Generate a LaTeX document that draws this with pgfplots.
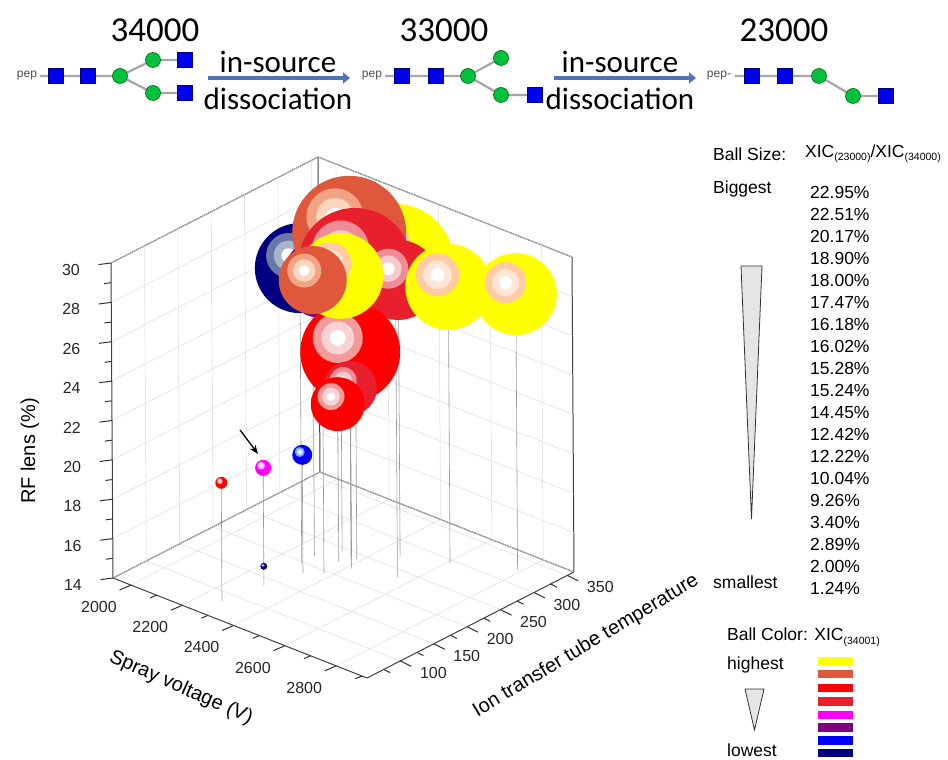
\documentclass[border=0pt]{standalone}
\usepackage{pgfplots}
\pgfplotsset{compat=1.18}
\usepackage{fontspec}
\setmainfont{Liberation Sans}
\newfontfamily\calibri{Carlito}
\usetikzlibrary{calc,arrows.meta}

\definecolor{cY}{HTML}{FFFF00}\definecolor{cYa}{HTML}{FFCBA4}\definecolor{cYb}{HTML}{FFE6D6}
\definecolor{cO}{HTML}{E0583C}\definecolor{cOa}{HTML}{F2A384}\definecolor{cOb}{HTML}{FDD5BF}
\definecolor{cR}{HTML}{FF0000}\definecolor{cRa}{HTML}{F39A9A}\definecolor{cRb}{HTML}{F9D3D3}
\definecolor{cC}{HTML}{E81F2D}\definecolor{cCa}{HTML}{F08C95}\definecolor{cCb}{HTML}{F8C9CD}
\definecolor{cM}{HTML}{FF00FF}\definecolor{cMa}{HTML}{FF90FF}\definecolor{cMb}{HTML}{FFD0FF}
\definecolor{cP}{HTML}{800080}\definecolor{cPa}{HTML}{A870A8}\definecolor{cPb}{HTML}{D4B8D4}
\definecolor{cB}{HTML}{0000FF}\definecolor{cBa}{HTML}{6FA0FF}\definecolor{cBb}{HTML}{C0D8FF}
\definecolor{cN}{HTML}{000080}\definecolor{cNa}{HTML}{6878A8}\definecolor{cNb}{HTML}{A8B4CC}
\definecolor{arrowblue}{HTML}{4F72B8}
\definecolor{gblue}{HTML}{0000F0}
\definecolor{ggreen}{HTML}{00C040}
\definecolor{txt}{HTML}{262626}

\newcommand\defball[4]{%
  \pgfdeclareplotmark{#1}{%
    \pgfpathcircle{\pgfpointorigin}{\pgfplotmarksize}%
    \pgfsetfillcolor{#2}\pgfusepath{fill}%
    \pgfpathcircle{\pgfpoint{-0.25\pgfplotmarksize}{0.28\pgfplotmarksize}}{0.5\pgfplotmarksize}%
    \pgfsetfillcolor{#3}\pgfusepath{fill}%
    \pgfpathcircle{\pgfpoint{-0.25\pgfplotmarksize}{0.28\pgfplotmarksize}}{0.33\pgfplotmarksize}%
    \pgfsetfillcolor{#4}\pgfusepath{fill}%
    \pgfpathcircle{\pgfpoint{-0.25\pgfplotmarksize}{0.28\pgfplotmarksize}}{0.16\pgfplotmarksize}%
    \pgfsetfillcolor{white}\pgfusepath{fill}%
  }}
\defball{bY}{cY}{cYa}{cYb}
\defball{bO}{cO}{cOa}{cOb}
\defball{bR}{cR}{cRa}{cRb}
\defball{bC}{cC}{cCa}{cCb}
\defball{bM}{cM}{cMa}{cMb}
\defball{bP}{cP}{cPa}{cPb}
\defball{bB}{cB}{cBa}{cBb}
\defball{bN}{cN}{cNa}{cNb}

\newcommand\sub[1]{\raisebox{-3.5pt}{\fontsize{10.5}{10.5}\selectfont(#1)}}
\tikzset{tk/.style={black!80, line width=1pt},
  tl/.style={font=\fontsize{16}{16}\selectfont, text=txt, inner sep=0pt}}

\begin{document}
\begin{tikzpicture}[font=\color{txt}]
\begin{axis}[
  x={(0.256566pt,-0.10101pt)}, y={(0.667742pt,0.341935pt)}, z={(-0.125pt,19.6875pt)},
  xmin=1930, xmax=2920, ymin=50, ymax=360, zmin=14, zmax=30,
  clip=false,
  grid=major, major grid style={black!14, line width=0.5pt},
  xtick={2000,2200,...,2800},
  ytick={100,150,...,350},
  ztick={14,16,...,30},
  xticklabels={}, yticklabels={}, zticklabels={},
  every tick/.style={draw=none},
  axis line style={black!75, line width=1pt},
  dropline/.style={black!40, line width=0.6pt, forget plot},
]
% tick marks and tick labels on the three front axes
\pgfplotsinvokeforeach{2000,2200,2400,2600,2800}{\draw[tk] (#1,50,14) -- ++(-11.5pt,-5pt);
  \node[tl, xshift=-32pt, yshift=-22pt] at (#1,50,14) {#1};}
\pgfplotsinvokeforeach{2100,2300,2500,2700,2900}{\draw[tk] (#1,50,14) -- ++(-6.5pt,-2.8pt);}
\pgfplotsinvokeforeach{100,150,200,250,300,350}{\draw[tk] (2920,#1,14) -- ++(11pt,-5.5pt);
  \node[tl, xshift=33pt, yshift=-12pt] at (2920,#1,14) {#1};}
\pgfplotsinvokeforeach{75,125,175,225,275,325}{\draw[tk] (2920,#1,14) -- ++(6.3pt,-3.2pt);}
\pgfplotsinvokeforeach{14,16,18,20,22,24,26,28,30}{\draw[tk] (1930,50,#1) -- ++(-12.5pt,-1.6pt);
  \node[tl, xshift=-40pt, yshift=-7pt] at (1930,50,#1) {#1};}
\pgfplotsinvokeforeach{15,17,19,21,23,25,27,29}{\draw[tk] (1930,50,#1) -- ++(-7pt,-0.9pt);}
% drop lines to the floor
\addplot3[dropline] coordinates {(2552,237,30) (2552,237,14)};
\addplot3[dropline] coordinates {(2283,197,29) (2283,197,14)};
\addplot3[dropline] coordinates {(2375,195,29) (2375,195,14)};
\addplot3[dropline] coordinates {(2325,255,30) (2325,255,14)};
\addplot3[dropline] coordinates {(2391,238,29) (2391,238,14)};
\addplot3[dropline] coordinates {(2466,274,28) (2466,274,14)};
\addplot3[dropline] coordinates {(2415,221,25) (2415,221,14)};
\addplot3[dropline] coordinates {(2321,243,28) (2321,243,14)};
\addplot3[dropline] coordinates {(2278,218,28) (2278,218,14)};
\addplot3[dropline] coordinates {(2606,295,28) (2606,295,14)};
\addplot3[dropline] coordinates {(2786,327,28) (2786,327,14)};
\addplot3[dropline] coordinates {(2400,226,23) (2400,226,14)};
\addplot3[dropline] coordinates {(2357,224,22) (2357,224,14)};
\addplot3[dropline] coordinates {(2269,83,20) (2269,83,14)};
\addplot3[dropline] coordinates {(2297,135,20) (2297,135,14)};
\addplot3[dropline] coordinates {(2327,182,20) (2327,182,14)};
% balls (back to front)
\addplot3[only marks, mark=bY, mark size=58] coordinates {(2552,237,30)};
\addplot3[only marks, mark=bN, mark size=45] coordinates {(2283,197,29)};
\addplot3[only marks, mark=bP, mark size=40] coordinates {(2375,195,29)};
\addplot3[only marks, mark=bO, mark size=57] coordinates {(2325,255,30)};
\addplot3[only marks, mark=bC, mark size=57] coordinates {(2391,238,29)};
\addplot3[only marks, mark=bC, mark size=40] coordinates {(2466,274,28)};
\addplot3[only marks, mark=bR, mark size=50] coordinates {(2415,221,25)};
\addplot3[only marks, mark=bY, mark size=43] coordinates {(2321,243,28)};
\addplot3[only marks, mark=bO, mark size=34] coordinates {(2278,218,28)};
\addplot3[only marks, mark=bY, mark size=43] coordinates {(2606,295,28)};
\addplot3[only marks, mark=bY, mark size=41] coordinates {(2786,327,28)};
\addplot3[only marks, mark=bC, mark size=27] coordinates {(2400,226,23)};
\addplot3[only marks, mark=bR, mark size=27] coordinates {(2357,224,22)};
\addplot3[only marks, mark=bR, mark size=6] coordinates {(2269,83,20)};
\addplot3[only marks, mark=bM, mark size=8] coordinates {(2297,135,20)};
\addplot3[only marks, mark=bB, mark size=10] coordinates {(2327,182,20)};
\addplot3[only marks, mark=bN, mark size=3.5] coordinates {(2297,135,15)};
\coordinate (L) at (1930,50,14);
\end{axis}

\begin{scope}[shift={($(L)+(-113pt,578pt)$)}, x=1pt, y=-1pt]
% axis titles
\node[rotate=-24, font=\fontsize{20}{20}\selectfont] at (181,688) {Spray voltage (V)};
\node[rotate=31, font=\fontsize{20}{20}\selectfont] at (586,646) {Ion transfer tube temperature};
\node[rotate=90, font=\fontsize{20}{20}\selectfont] at (30,451) {RF lens (\%)};
% arrow to magenta point
\draw[black, line width=1.3pt, -{Stealth[length=9pt,width=7pt]}] (240,430) -- (258,454);

% top scheme
\node[font=\calibri\fontsize{35}{35}\selectfont] at (155,30) {34000};
\node[font=\calibri\fontsize{35}{35}\selectfont] at (444,30) {33000};
\node[font=\calibri\fontsize{35}{35}\selectfont] at (784,30) {23000};
\foreach \xa in {208,554}{
  \draw[arrowblue, line width=4.5pt, -{Triangle[length=7pt,width=11pt]}] (\xa,78) -- ++(142,0);
}
\node[font=\calibri\fontsize{31}{31}\selectfont] at (278,62) {in-source};
\node[font=\calibri\fontsize{31}{31}\selectfont] at (278,99) {dissociation};
\node[font=\calibri\fontsize{31}{31}\selectfont] at (620,62) {in-source};
\node[font=\calibri\fontsize{31}{31}\selectfont] at (620,99) {dissociation};
\tikzset{gl/.style={black!35, line width=2.2pt},
  sq/.style={fill=gblue, draw=blue!50!black, line width=0.6pt},
  ci/.style={fill=ggreen, draw=green!40!black, line width=0.6pt}}
\def\sq(#1,#2){\filldraw[sq] (#1-7.5,#2-7.5) rectangle (#1+7.5,#2+7.5);}
\def\ci(#1,#2){\filldraw[ci] (#1,#2) circle (7.5);}
% glycan 1
\node[font=\fontsize{12}{12}\selectfont, text=black!70] at (27,76) {pep};
\draw[gl] (40,76) -- (120,76) -- (153,60) -- (185,60);
\draw[gl] (120,76) -- (153,93) -- (185,93);
\sq(56,76)\sq(88,76)\ci(120,76)\ci(153,60)\sq(185,60)\ci(153,93)\sq(185,93)
% glycan 2
\node[font=\fontsize{12}{12}\selectfont, text=black!70] at (372,76) {pep};
\draw[gl] (385,76) -- (468,76) -- (501,58);
\draw[gl] (468,76) -- (501,95) -- (535,95);
\sq(402,76)\sq(436,76)\ci(468,76)\ci(501,58)\ci(501,95)\sq(535,95)
% glycan 3
\node[font=\fontsize{12}{12}\selectfont, text=black!70] at (719,76) {pep-};
\draw[gl] (735,76) -- (819,76) -- (853,96) -- (886,96);
\sq(752,76)\sq(785,76)\ci(819,76)\ci(853,96)\sq(886,96)

% legend: ball size
\begin{scope}[every node/.style={font=\fontsize{17.5}{20}\selectfont, anchor=west, inner sep=0pt}]
\node at (713,154) {Ball Size:};
\node at (805,154) {XIC\sub{23000}/XIC\sub{34000}};
\node at (713,189) {Biggest};
\node at (713,582) {smallest};
\foreach \v [count=\i from 0] in {22.95,22.51,20.17,18.90,18.00,17.47,16.18,16.02,15.28,15.24,14.45,12.42,12.22,10.04,9.26,3.40,2.89,2.00,1.24}
  \node at (810,192.3+22*\i) {\v\%};
\node at (727,637) {Ball Color: XIC\sub{34001}};
\node at (727,665) {highest};
\node at (727,750) {lowest};
\end{scope}
\filldraw[fill=black!10, draw=black!80, line width=0.8pt] (741,266) -- (762,266) -- (751.5,519) -- cycle;
\filldraw[fill=black!10, draw=black!80, line width=0.8pt] (745,689) -- (764,689) -- (754.5,730) -- cycle;
\foreach \c/\yy in {cY/661,cO/674,cR/688,cC/701.5,cM/715,cP/727.5,cB/740.5,cN/753}
  \fill[\c] (818,\yy-4.3) rectangle (853,\yy+4.3);

\pgfresetboundingbox
\path[use as bounding box] (0,0) rectangle (948,760);
\end{scope}
\end{tikzpicture}
\end{document}
